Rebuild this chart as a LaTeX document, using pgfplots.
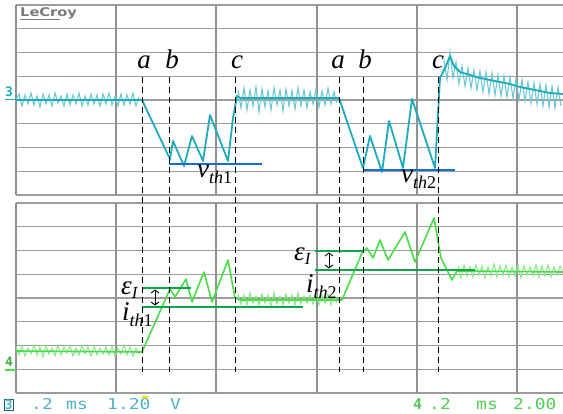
\documentclass[border=0pt]{standalone}
\usepackage{pgfplots}
\pgfplotsset{compat=1.18}
\usepackage{graphicx}
\usepackage{fontspec}
\setmainfont{Liberation Serif}
\newfontfamily\scopefont{DejaVu Sans Mono}
\newfontfamily\lecroyfont{DejaVu Sans}
\usetikzlibrary{arrows.meta}
\definecolor{cyantr}{RGB}{28,170,188}
\definecolor{cyanlt}{RGB}{110,200,212}
\definecolor{greentr}{RGB}{72,222,72}
\definecolor{greenlt}{RGB}{140,232,140}
\definecolor{thrblue}{RGB}{25,110,205}
\definecolor{thrgreen}{RGB}{12,168,72}
\definecolor{gridc}{RGB}{145,145,145}
\definecolor{txtcyan}{RGB}{80,178,198}
\definecolor{txtgreen}{RGB}{80,205,80}
\pgfplotsset{
  scopepanel/.style={
    scale only axis, width=547pt, height=190pt,
    xmin=16, xmax=563, y dir=reverse,
    axis line style={draw=none},
    tick style={draw=none},
    xtick=\empty,
    extra x ticks={16,116,216,317,417,517},
    extra x tick labels={},
    extra x tick style={grid=major, major grid style={gridc, line width=2.2pt}},
    yticklabels={},
    ymajorgrids,
    major grid style={gridc!90, line width=1.4pt},
  }
}
\tikzset{
  dmark/.style={black, line width=0.9pt, dash pattern=on 6pt off 4pt},
  lbl/.style={anchor=base, inner sep=0, font=\fontsize{27}{27}\selectfont\itshape},
  dbl/.style={line width=0.9pt, {Straight Barb[length=3pt,width=8pt]}-{Straight Barb[length=3pt,width=8pt]}},
  cytxt/.style={anchor=base west, inner sep=0, text=txtcyan},
  grtxt/.style={anchor=base west, inner sep=0, text=txtgreen},
  sym/.style={anchor=base west, inner sep=0},
}
\newcommand{\scopetxt}[1]{\scalebox{1.2}[1]{\scopefont\fontsize{15}{15}\selectfont #1}}
\newcommand{\mainsym}[1]{{\fontsize{27}{27}\selectfont\itshape #1}}
\newcommand{\subsym}[2]{{\fontsize{18}{18}\selectfont\raisebox{-6pt}{\itshape #1\upshape #2}}}
\begin{document}
\begin{tikzpicture}
\useasboundingbox (0,0) rectangle (563pt,414pt);
% ---------------- top panel (channel 3, voltage) ----------------
\begin{axis}[scopepanel, at={(16pt,219pt)}, anchor=south west,
  ymin=5, ymax=195,
  ytick={5,28.75,52.5,76.25,100,123.75,147.5,171.25,195}]
\addplot[cyanlt, line width=1.1pt] coordinates {
(16,100)(19,94)(22,106)(25,95)(28,104)(31,93)(34,105)(37,96)(40,107)(43,94)(46,104)(49,95)(52,106)(55,93)(58,103)(61,96)(64,106)(67,94)(70,105)(73,95)(76,104)(79,93)(82,106)(85,96)(88,105)(91,94)(94,104)(97,95)(100,106)(103,94)(106,104)(109,93)(112,105)(115,96)(118,106)(121,94)(124,105)(127,95)(130,104)(133,93)(136,106)(139,97)};
\addplot[cyanlt, line width=1.1pt] coordinates {
(238,90)(241,108)(244,88)(247,110)(250,90)(253,106)(256,87)(259,112)(262,89)(265,107)(268,91)(271,110)(274,88)(277,105)(280,90)(283,111)(286,89)(289,106)(292,91)(295,109)(298,88)(301,106)(304,90)(307,108)(310,92)(313,104)(316,89)(319,107)(322,91)(325,105)(328,88)(331,104)(334,92)(337,103)};
\addplot[cyanlt, line width=1.1pt] coordinates {
(444,60)(447,80)(450,52)(453,78)(456,62)(459,84)(462,66)(465,86)(468,68)(471,88)(474,70)(477,90)(480,71)(483,92)(486,72)(489,94)(492,73)(495,95)(498,75)(501,96)(504,76)(507,97)(510,77)(513,98)(516,79)(519,100)(522,80)(525,101)(528,82)(531,103)(534,83)(537,104)(540,84)(543,106)(546,85)(549,107)(552,86)(555,108)(558,87)(561,106)};
\addplot[cyantr, line width=1.8pt, line join=round] coordinates {
(16,100)(142,100)(170,159)(173,141)(184,166)(192,136)(203,161)(210,115)(228,161)(233,118)(237,96)(240,98)(339,98)
(363,168)(370,136)(382,172)(389,121)(403,168)(412,99)(435,168)(440,78)(446,66)(450,56)(454,66)(460,72)(470,75)(480,78)(490,80)(500,82)(510,84)(520,87)(530,89)(540,91)(550,93)(563,94)};
\addplot[thrblue, line width=2.5pt] coordinates {(169,164)(262,164)};
\addplot[thrblue, line width=2.5pt] coordinates {(363,170)(455,170)};
\end{axis}
% ---------------- bottom panel (channel 4, current) ----------------
\begin{axis}[scopepanel, at={(16pt,21pt)}, anchor=south west, clip=false,
  ymin=203, ymax=393,
  ytick={203,226.75,250.5,274.25,298,321.75,345.5,369.25,393}]
\addplot[greenlt, line width=1.1pt] coordinates {
(16,347)(19,355)(22,346)(25,356)(28,348)(31,354)(34,345)(37,355)(40,347)(43,357)(46,346)(49,354)(52,348)(55,356)(58,345)(61,355)(64,347)(67,353)(70,346)(73,356)(76,348)(79,355)(82,345)(85,354)(88,347)(91,356)(94,346)(97,355)(100,348)(103,354)(106,347)(109,355)(112,346)(115,356)(118,348)(121,354)(124,345)(127,355)(130,347)(133,356)(136,348)(139,354)};
\addplot[greenlt, line width=1.1pt] coordinates {
(238,294)(241,304)(244,295)(247,305)(250,293)(253,303)(256,296)(259,305)(262,294)(265,303)(268,295)(271,306)(274,293)(277,304)(280,296)(283,305)(286,294)(289,303)(292,295)(295,305)(298,293)(301,304)(304,296)(307,303)(310,295)(313,304)(316,293)(319,305)(322,295)(325,303)(328,294)(331,305)(334,296)(337,303)};
\addplot[greenlt, line width=1.1pt] coordinates {
(458,266)(461,278)(464,265)(467,276)(470,267)(473,277)(476,265)(479,275)(482,266)(485,278)(488,267)(491,276)(494,264)(497,277)(500,266)(503,275)(506,265)(509,277)(512,267)(515,276)(518,265)(521,278)(524,266)(527,275)(530,267)(533,276)(536,265)(539,277)(542,266)(545,276)(548,265)(551,277)(554,267)(557,275)(560,266)(562,270)};
\addplot[greentr, line width=1.6pt, line join=round] coordinates {
(16,351)(142,352)(170,289)(175,297)(186,279)(192,302)(204,272)(212,302)(228,260)(235,298)(240,300)(339,300)
(342,300)(362,253)(367,248)(373,258)(380,240)(388,260)(405,232)(415,262)(434,218)(441,258)(447,270)(452,280)(457,271)(563,272)};
\addplot[thrgreen, line width=2.5pt] coordinates {(142,288)(191,288)};
\addplot[thrgreen, line width=2.5pt] coordinates {(142,307)(303,307)};
\addplot[thrgreen, line width=2.5pt] coordinates {(315,251)(363,251)};
\addplot[thrgreen, line width=2.5pt] coordinates {(315,270)(475,270)};
% dashed markers
\draw[dmark] (axis cs:142,77) -- (axis cs:142,372);
\draw[dmark] (axis cs:169,77) -- (axis cs:169,372);
\draw[dmark] (axis cs:235,77) -- (axis cs:235,372);
\draw[dmark] (axis cs:339,77) -- (axis cs:339,372);
\draw[dmark] (axis cs:363,77) -- (axis cs:363,372);
\draw[dmark] (axis cs:438,77) -- (axis cs:438,372);
% a b c labels
\node[lbl] at (axis cs:144,69) {a};
\node[lbl] at (axis cs:172,69) {b};
\node[lbl] at (axis cs:237,69) {c};
\node[lbl] at (axis cs:338,69) {a};
\node[lbl] at (axis cs:365,69) {b};
\node[lbl] at (axis cs:438,69) {c};
% v_th labels
\node[sym] at (axis cs:197,178) {\mainsym{v}\subsym{th}{1}};
\node[sym] at (axis cs:401,183) {\mainsym{v}\subsym{th}{2}};
% epsilon / i_th labels
\node[sym] at (axis cs:121,295) {\mainsym{ε}{\fontsize{17}{17}\selectfont\raisebox{-4pt}{\itshape I}}};
\node[sym] at (axis cs:122,321) {\mainsym{i}\subsym{th}{1}};
\node[sym] at (axis cs:294,261) {\mainsym{ε}{\fontsize{17}{17}\selectfont\raisebox{-4pt}{\itshape I}}};
\node[sym] at (axis cs:306,293) {\mainsym{i}\subsym{th}{2}};
% double arrows
\draw[dbl] (axis cs:155,289.5) -- (axis cs:155,305.5);
\draw[dbl] (axis cs:329,252.5) -- (axis cs:329,268.5);
% LeCroy logo
\node[anchor=base west, inner sep=0, text=gray!95!black] at (axis cs:20,17)
  {\scalebox{1.22}[1]{\lecroyfont\bfseries\fontsize{12}{12}\selectfont LeCroy}};
\draw[gray!95!black, line width=1pt] (axis cs:20,19.5) -- (axis cs:60,19.5);
% channel markers
\node[anchor=base west, inner sep=0, text=cyantr] at (axis cs:5,97)
  {\scopefont\bfseries\fontsize{13}{13}\selectfont 3};
\draw[cyantr, line width=1.5pt] (axis cs:5,99.5) -- (axis cs:16,99.5);
\node[anchor=base west, inner sep=0, text=greentr!80!black] at (axis cs:5,367)
  {\scopefont\bfseries\fontsize{13}{13}\selectfont 4};
\draw[greentr, line width=1.5pt] (axis cs:5,370) -- (axis cs:16,370);
% bottom status line
\node[anchor=base west, inner sep=0.6pt, draw=cyantr!60!black, line width=0.8pt, text=txtcyan] at (axis cs:4,410)
  {\scopefont\bfseries\fontsize{13}{13}\selectfont 3};
\node[cytxt] at (axis cs:31,410) {\scopetxt{.2}};
\node[cytxt] at (axis cs:66,410) {\scopetxt{ms}};
\node[cytxt] at (axis cs:107,410) {\scopetxt{1.20}};
\node[cytxt] at (axis cs:170,410) {\scopetxt{V}};
\fill[yellow!85!orange] (axis cs:145,397) ellipse (3.5pt and 1.5pt);
\node[grtxt] at (axis cs:413,410) {\scopefont\bfseries\fontsize{15}{15}\selectfont 4};
\node[grtxt] at (axis cs:429,410) {\scopetxt{.2}};
\node[grtxt] at (axis cs:476,410) {\scopetxt{ms}};
\node[grtxt] at (axis cs:513,410) {\scopetxt{2.00}};
\end{axis}
\end{tikzpicture}
\end{document}
